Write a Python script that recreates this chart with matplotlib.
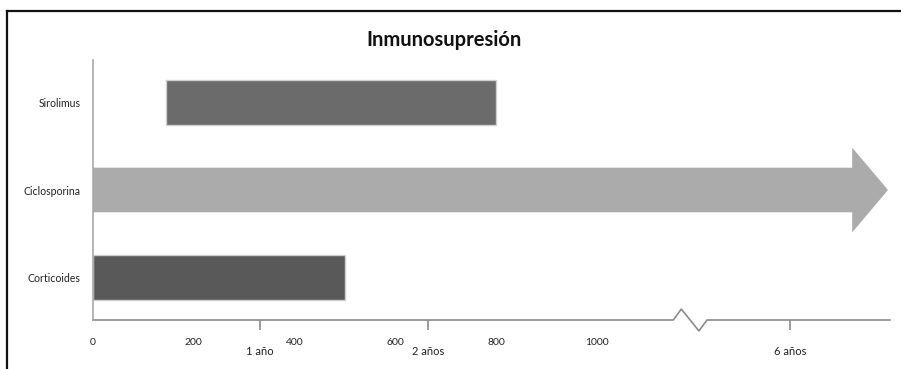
import matplotlib
matplotlib.use("Agg")
import matplotlib.pyplot as plt
from matplotlib.patches import FancyArrow
from matplotlib.lines import Line2D
import matplotlib.transforms as mtransforms

plt.rcParams['font.family'] = ['Lato', 'DejaVu Sans']

# Data
categories = ['Corticoides', 'Ciclosporina', 'Sirolimus']
starts = [0, 0, 145]
ends = [500, 1577, 800]
colors = ['#595959', '#ababab', '#6b6b6b']
num_ticks = [0, 200, 400, 600, 800, 1000]
year_ticks = [331, 665, 1383]
year_labels = ['1 año', '2 años', '6 años']
break_x = [1151, 1167, 1202, 1218]

W, H = 901, 369
fig = plt.figure(figsize=(W / 100, H / 100), dpi=100)
ax = fig.add_axes([93 / W, 1 - 320 / H, (890 - 93) / W, 260 / H])
ax.set_xlim(0, 1581)
ax.set_ylim(-0.486, 2.486)

bar_h = 0.51
for i, (c, s, e, col) in enumerate(zip(categories, starts, ends, colors)):
    if c == 'Ciclosporina':
        arr = FancyArrow(s, i, e - s, 0, width=bar_h, head_width=0.97,
                         head_length=71, length_includes_head=True,
                         color=col, linewidth=0)
        ax.add_patch(arr)
    else:
        ax.barh(i, e - s, left=s, height=bar_h, color=col,
                edgecolor='#cfcfcf', linewidth=1)

ax.set_yticks(range(len(categories)))
ax.set_yticklabels(categories, fontsize=7.6, color='#222222')
ax.tick_params(axis='y', length=0, pad=9)

for sp in ['top', 'right', 'bottom']:
    ax.spines[sp].set_visible(False)
ax.spines['left'].set_color('#a8a8a8')
ax.spines['left'].set_linewidth(1.2)

# bottom axis line with break
trans = mtransforms.blended_transform_factory(ax.transData, ax.transAxes)
ax.plot([0, break_x[0], break_x[1], break_x[2], break_x[3], 1581],
        [0, 0, 0.042, -0.042, 0, 0], color='#8a8a8a', lw=1.2,
        transform=trans, clip_on=False)

# year ticks (major), numeric labels (minor)
ax.set_xticks(year_ticks)
ax.set_xticklabels(year_labels, fontsize=8, color='#222222')
ax.tick_params(axis='x', which='major', length=7, width=1.2,
               color='#8a8a8a', pad=12)
ax.set_xticks(num_ticks, minor=True)
ax.set_xticklabels([str(v) for v in num_ticks], minor=True, fontsize=7.5,
                   color='#222222')
ax.tick_params(axis='x', which='minor', length=0, pad=13)

fig.text(444 / W, 1 - 40 / H, 'Inmunosupresión', ha='center', va='center',
         fontsize=14.5, fontweight='bold', color='#111111')

# figure border (top and left)
fig.add_artist(Line2D([7 / W, 7 / W], [0, 1 - 11 / H], transform=fig.transFigure,
                      color='#111111', lw=1.6))
fig.add_artist(Line2D([7 / W, 1], [1 - 11 / H, 1 - 11 / H], transform=fig.transFigure,
                      color='#111111', lw=1.6))

fig.savefig('out.png', dpi=100)
